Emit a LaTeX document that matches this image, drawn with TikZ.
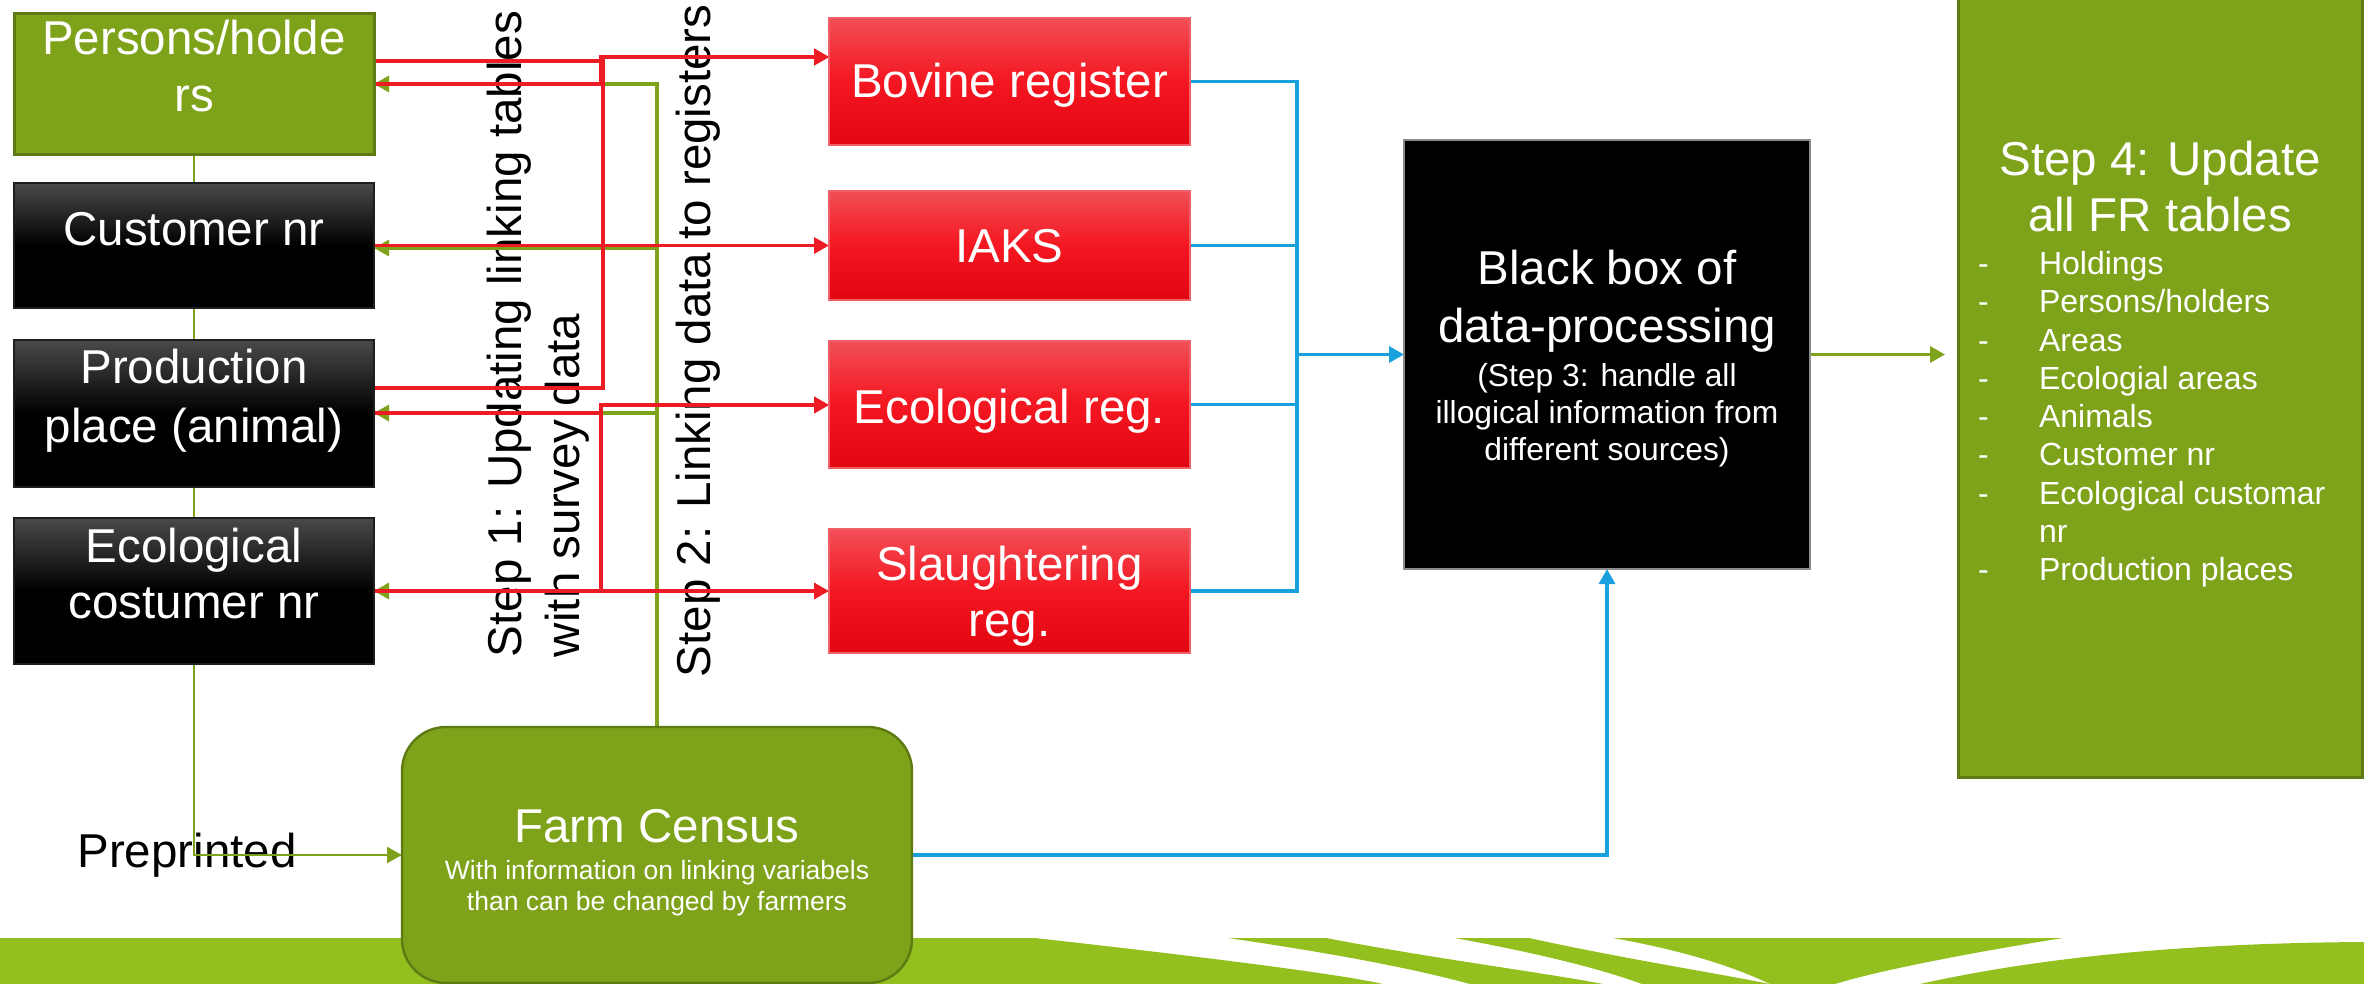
\documentclass[tikz,border=0pt]{standalone}
\usepackage{fontspec}
\setmainfont{Liberation Sans}
\usetikzlibrary{arrows.meta}
\definecolor{boxgreen}{RGB}{126,162,25}
\definecolor{boxgreendark}{RGB}{94,122,18}
\definecolor{bandgreen}{RGB}{147,192,31}
\definecolor{linered}{RGB}{237,28,36}
\definecolor{lineblue}{RGB}{27,160,222}
\definecolor{linegreen}{RGB}{126,162,25}
\definecolor{rtop}{RGB}{242,78,86}
\definecolor{rmid}{RGB}{244,22,32}
\definecolor{rbot}{RGB}{226,6,16}
\definecolor{rborder}{RGB}{240,96,102}
\definecolor{kgray}{RGB}{74,74,74}
\definecolor{kborder}{RGB}{30,30,30}
\pgfdeclarelayer{back}
\pgfdeclarelayer{mid}
\pgfsetlayers{back,mid,main}
\newcommand{\stk}[2][c]{\begin{tabular}[t]{@{}#1@{}}#2\end{tabular}}
\begin{document}
\begin{tikzpicture}[x=0.5pt,y=-0.5pt,
  box/.style={rectangle, inner sep=0pt, outer sep=0pt},
  gbox/.style={box, fill=boxgreen, draw=boxgreendark, line width=1.5pt},
  kbox/.style={box, top color=kgray, bottom color=black, middle color=black, draw=kborder, line width=0.8pt},
  rbox/.style={box, top color=rtop, bottom color=rbot, middle color=rmid, draw=rborder, line width=0.8pt},
  wtxt/.style={inner sep=0pt, outer sep=0pt, text=white, anchor=base, font=\fontsize{23.75}{28.5}\selectfont},
  rottxt/.style={inner sep=0pt, outer sep=0pt, text=black, rotate=90, anchor=base west, font=\fontsize{23.75}{29}\selectfont},
  rline/.style={draw=linered, line width=1.7pt},
  gline/.style={draw=linegreen, line width=1.6pt},
  bline/.style={draw=lineblue, line width=1.7pt},
  arrowend/.style={-{Triangle[length=7.5pt,width=8pt]}}
]
\useasboundingbox (0,0) rectangle (2364,984);

% ---------- boxes ----------
\node[gbox, minimum width=180pt, minimum height=70.5pt] (pers) at (194,84.5) {};
\node[kbox, minimum width=180pt, minimum height=62.5pt] (cust) at (194,245.5) {};
\node[kbox, minimum width=180pt, minimum height=73.5pt] (prod) at (194,413.5) {};
\node[kbox, minimum width=180pt, minimum height=73pt] (ecn) at (194,591) {};

\node[rbox, minimum width=180.5pt, minimum height=63.5pt] (bov) at (1009.5,81.5) {};
\node[rbox, minimum width=180.5pt, minimum height=54.5pt] (iaks) at (1009.5,245.5) {};
\node[rbox, minimum width=180.5pt, minimum height=63.5pt] (eco) at (1009.5,404.5) {};
\node[rbox, minimum width=180.5pt, minimum height=62pt] (slau) at (1009.5,591) {};

\node[box, fill=black, draw=black!45, line width=0.8pt, minimum width=203pt, minimum height=214.5pt] (bb) at (1607,354.5) {};
\node[box, fill=boxgreen, draw=boxgreendark, line width=1.2pt, rounded corners=22pt, minimum width=255pt, minimum height=128pt] (fc) at (657,855) {};
\node[gbox, minimum width=202pt, minimum height=393.5pt] (s4) at (2160,383.5) {};

% ---------- texts in boxes ----------
\node[wtxt] (perst) at (194,55) {\stk{Persons/holde\\rs}};
\node[wtxt] (custt) at (194,246) {Customer nr};
\node[wtxt, font=\fontsize{23.75}{29.5}\selectfont] (prodt) at (194,383) {\stk{Production\\place (animal)}};
\node[wtxt, font=\fontsize{23.75}{28}\selectfont] (ecnt) at (194,562) {\stk{Ecological\\costumer nr}};

\node[wtxt] (bovt) at (1009.5,97.6) {Bovine register};
\node[wtxt] (iakst) at (1009.5,263) {IAKS};
\node[wtxt] (ecot) at (1009.5,423) {Ecological reg.};
\node[wtxt, font=\fontsize{23.75}{28}\selectfont] (slaut) at (1009.5,580) {\stk{Slaughtering\\reg.}};

\node[wtxt] (bbt) at (1607,285) {\stk{Black box of\\data-processing}};
\node[wtxt, font=\fontsize{15.9}{18.5}\selectfont] (bbs) at (1607,386.5) {\stk{(Step 3: handle all\\illogical information from\\different sources)}};

\node[wtxt] (fct) at (657,842) {Farm Census};
\node[wtxt, font=\fontsize{13.25}{15.5}\selectfont] (fcs) at (657,879) {\stk{With information on linking variabels\\than can be changed by farmers}};

\node[wtxt, font=\fontsize{23.75}{28}\selectfont] (s4t) at (2160,176) {\stk{Step 4: Update\\all FR tables}};
\node[wtxt, anchor=base west, font=\fontsize{16}{19.125}\selectfont] (s4l) at (1978,274.5)
  {\begin{tabular}[t]{@{}p{30.5pt}@{}l@{}}-&Holdings\\-&Persons/holders\\-&Areas\\-&Ecologial areas\\-&Animals\\-&Customer nr\\-&Ecological customar\\&nr\\-&Production places\end{tabular}};

% ---------- background: band and free texts ----------
\begin{pgfonlayer}{back}
  \fill[bandgreen] (0,938) -- (1035,938) .. controls (1160,952) and (1330,972) .. (1383,984) -- (0,984) -- cycle;
  \fill[bandgreen] (1228,938) -- (1326,938) .. controls (1430,958) and (1540,972) .. (1603,984) -- (1470,984) .. controls (1400,965) and (1310,950) .. cycle;
  \fill[bandgreen] (1455,938) -- (1529,938) .. controls (1620,958) and (1710,972) .. (1770,984) -- (1642,984) .. controls (1590,965) and (1520,950) .. cycle;
  \fill[bandgreen] (1613,938) -- (2063,938) .. controls (1975,952) and (1880,970) .. (1835,984) -- (1770,984) .. controls (1730,965) and (1680,950) .. cycle;
  \fill[bandgreen] (1920,984) .. controls (2050,955) and (2200,943) .. (2364,942) -- (2364,984) -- cycle;

  \node[rottxt] (step1) at (521,657) {\stk[l]{Step 1: Updating linking tables\\with survey data}};
  \node[rottxt] (step2) at (710,677) {Step 2: Linking data to registers};
  \node[inner sep=0pt, anchor=base west, text=black, font=\fontsize{23.75}{28.5}\selectfont] (pre) at (77,867) {Preprinted};
\end{pgfonlayer}

% ---------- connectors ----------
\begin{pgfonlayer}{mid}
  % left green spine to Farm Census
  \draw[gline, line width=1.2pt, arrowend] (pers.south) -- (pers.south |- fc.west) -- (fc.west);
  % green feedback from Farm Census to the linking tables
  \draw[gline, arrowend] (fc.north) |- (pers.east |- 0,84);
  \draw[gline, arrowend] (fc.north) |- (cust.east |- 0,248);
  \draw[gline, arrowend] (fc.north) |- (prod.east |- 0,413);
  \draw[gline, arrowend] (fc.north) |- (ecn.east);
  % red links to registers
  \draw[rline, arrowend] (pers.east |- 0,61) -- (602,61) -- (602,57) -- (bov.west |- 0,57);
  \draw[rline, arrowend] (prod.east |- 0,388) -- (603,388) -- (603,57) -- (bov.west |- 0,57);
  \draw[rline, arrowend] (pers.east |- 0,84) -- (601,84) -- (601,57) -- (bov.west |- 0,57);
  \draw[rline, arrowend] (cust.east) -- (iaks.west);
  \draw[rline, arrowend] (prod.east |- 0,413) -- (601,413) |- (eco.west |- 0,405);
  \draw[rline, arrowend] (ecn.east) -- (601,591) |- (eco.west |- 0,405);
  \draw[rline, arrowend] (ecn.east) -- (slau.west);
  % blue to black box
  \coordinate (bus) at (1297,354.5);
  \draw[bline] (bov.east) -| (bus);
  \draw[bline] (iaks.east) -| (bus);
  \draw[bline] (eco.east) -| (bus);
  \draw[bline] (slau.east) -| (bus);
  \draw[bline, arrowend] (bus) -- (bb.west);
  \draw[bline, arrowend] (fc.east) -| (bb.south);
  % green to step 4
  \draw[gline, arrowend, shorten >=6.5pt] (bb.east) -- (s4.west |- bb.east);
\end{pgfonlayer}
\end{tikzpicture}
\end{document}
